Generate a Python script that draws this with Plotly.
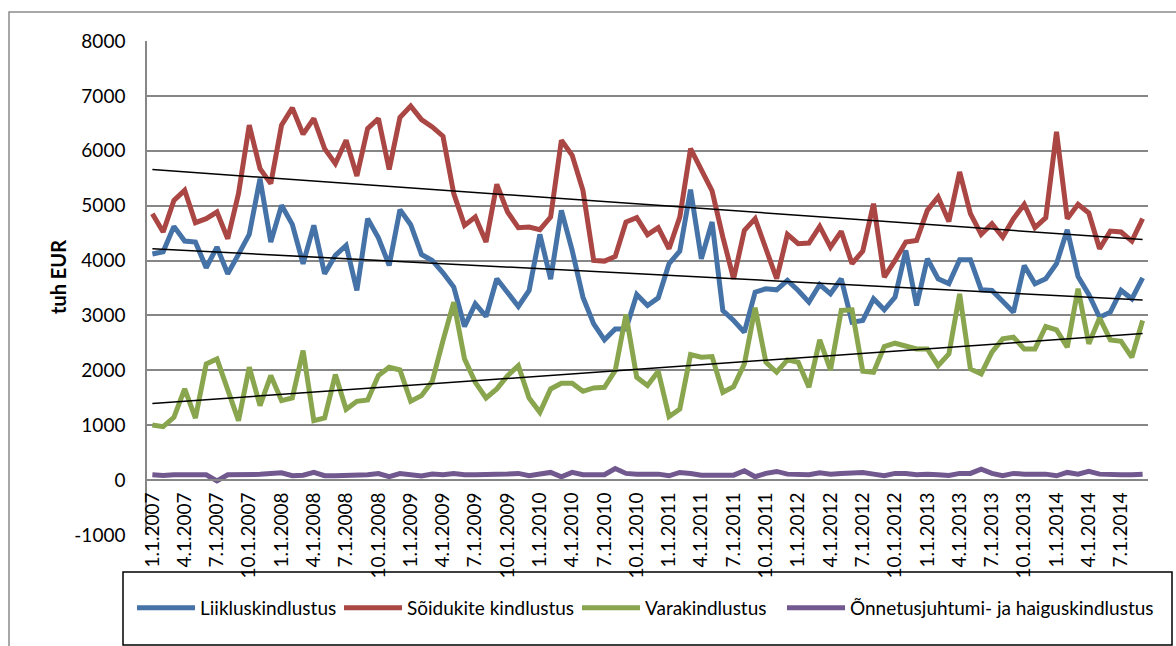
import numpy as np
import plotly.graph_objects as go

months = [f"{m}.1.{y}" for y in range(2007, 2015) for m in range(1, 13)][:93]
y_ticks = [-1000, 0, 1000, 2000, 3000, 4000, 5000, 6000, 7000, 8000]

liiklus = [4120, 4160, 4623, 4355, 4337, 3869, 4246, 3759, 4112, 4477, 5493, 4337, 5006, 4659, 3942, 4641,
           3759, 4094, 4276, 3455, 4763, 4416, 3911, 4927, 4653, 4112, 4002, 3777, 3516, 2798, 3212, 2981,
           3668, 3425, 3163, 3455, 4477, 3660, 4915, 4185, 3333, 2847, 2555, 2755, 2755, 3382, 3182, 3321,
           3942, 4173, 5292, 4033, 4702, 3090, 2908, 2695, 3425, 3486, 3467, 3637, 3455, 3242, 3564, 3394,
           3668, 2878, 2908, 3303, 3102, 3333, 4185, 3182, 4033, 3668, 3580, 4015, 4015, 3467, 3455, 3260,
           3060, 3911, 3577, 3668, 3942, 4562, 3710, 3382, 2968, 3060, 3455, 3303, 3686]

soidukid = [4854, 4520, 5097, 5280, 4690, 4763, 4884, 4398, 5219, 6466, 5675, 5401, 6466, 6782, 6302, 6588,
            6040, 5766, 6192, 5541, 6405, 6588, 5657, 6606, 6813, 6569, 6435, 6265, 5219, 4641, 4793, 4337,
            5389, 4884, 4599, 4611, 4562, 4793, 6192, 5918, 5280, 4002, 3990, 4075, 4702, 4781, 4471, 4599,
            4215, 4793, 6040, 5657, 5268, 4428, 3668, 4550, 4763, 4215, 3668, 4477, 4307, 4319, 4623, 4246,
            4532, 3942, 4173, 5036, 3698, 4002, 4337, 4367, 4915, 5158, 4710, 5614, 4854, 4477, 4672, 4428,
            4763, 5024, 4599, 4781, 6344, 4763, 5024, 4866, 4215, 4538, 4520, 4355, 4763]

vara = [1004, 973, 1144, 1661, 1131, 2117, 2208, 1661, 1083, 2056, 1356, 1904, 1448, 1496, 2360, 1083,
        1131, 1922, 1290, 1436, 1460, 1904, 2056, 2007, 1436, 1539, 1800, 2542, 3242, 2208, 1782, 1496,
        1661, 1904, 2086, 1496, 1235, 1661, 1764, 1764, 1618, 1679, 1691, 1995, 3017, 1873, 1722, 1983,
        1156, 1296, 2287, 2238, 2251, 1600, 1703, 2117, 3140, 2147, 1965, 2190, 2147, 1691, 2555, 2007,
        3090, 3102, 1983, 1965, 2433, 2494, 2433, 2390, 2390, 2086, 2300, 3394, 2026, 1934, 2330, 2573,
        2603, 2390, 2390, 2798, 2737, 2421, 3485, 2482, 2956, 2555, 2530, 2238, 2908]

onnetus = [97, 85, 97, 105, 97, 97, -15, 97, 97, 97, 105, 120, 134, 80, 90, 140, 80, 80, 80,
           80, 97, 120, 61, 120, 97, 75, 110, 97, 120, 97, 97, 97, 110, 110, 122, 80, 110, 140,
           61, 140, 97, 97, 97, 210, 122, 109, 109, 109, 79, 140, 122, 90, 90, 90, 90, 170,
           61, 122, 158, 109, 97, 97, 134, 109, 122, 122, 140, 109, 79, 122, 122, 97, 109, 97,
           85, 122, 122, 201, 122, 79, 122, 109, 109, 109, 79, 140, 109, 158, 109, 97, 97, 97, 109]

series = [
    ("Liikluskindlustus", liiklus, "#4572A7", True),
    ("Sõidukite kindlustus", soidukid, "#AA4643", True),
    ("Varakindlustus", vara, "#89A54E", True),
    ("Õnnetusjuhtumi- ja haiguskindlustus", onnetus, "#71588F", False),
]

FONT = "Lato"
fig = go.Figure()

W, H = 1176, 646
L, R, T, B = 147, 28, 41, 111
pw, ph = W - L - R, H - T - B


def px(x):
    return (x - L) / pw


def py(y):
    return (H - B - y) / ph


legend_ids = ["legend", "legend2", "legend3", "legend4"]
legend_x = [132, 339, 577, 782]

idx = np.arange(len(months))
for (name, vals, col, trend), lid in zip(series, legend_ids):
    fig.add_trace(go.Scatter(x=months, y=vals, mode="lines", name=name, legend=lid,
                             line=dict(color=col, width=5)))
for name, vals, col, trend in series:
    if trend:
        k, b = np.polyfit(idx, np.array(vals, dtype=float), 1)
        fig.add_trace(go.Scatter(x=[months[0], months[-1]], y=[b, k * idx[-1] + b], mode="lines",
                                 line=dict(color="black", width=1.5), showlegend=False,
                                 hoverinfo="skip"))

legends = {}
for lid, lx in zip(legend_ids, legend_x):
    legends[lid] = dict(orientation="h", x=px(lx), y=py(608), xanchor="left", yanchor="middle",
                        font=dict(family=FONT, size=19, color="black"), bgcolor="rgba(0,0,0,0)",
                        borderwidth=0, itemwidth=58)

fig.update_layout(
    width=W, height=H,
    margin=dict(l=L, r=R, t=T, b=B, pad=0, autoexpand=False),
    paper_bgcolor="white", plot_bgcolor="white",
    font=dict(family=FONT, color="black", size=19),
    showlegend=True,
    xaxis=dict(type="category", range=[-0.5, len(months) - 0.5], anchor="free", position=1 / 9,
               tickmode="array", tickvals=months[::3], ticktext=months[::3], tickangle=-90,
               showgrid=False, showline=True, linecolor="#868686", linewidth=1.5,
               ticks="outside", ticklen=4, tickcolor="rgba(0,0,0,0)",
               tickfont=dict(family=FONT, size=19, color="black")),
    yaxis=dict(range=[-1000, 8000], tickmode="array", tickvals=y_ticks,
               ticktext=[str(v) for v in y_ticks], showgrid=True, gridcolor="#868686",
               gridwidth=1.5, zeroline=False, showline=True, linecolor="#868686", linewidth=1.5,
               ticks="outside", ticklen=16, tickcolor="rgba(0,0,0,0)",
               tickfont=dict(family=FONT, size=19, color="black")),
    shapes=[
        dict(type="rect", xref="paper", yref="paper", x0=px(9), x1=px(1185), y0=py(660), y1=py(12),
             line=dict(color="#8c8c8c", width=1.5), layer="below"),
        dict(type="rect", xref="paper", yref="paper", x0=px(123), x1=px(1172), y0=py(645), y1=py(572),
             line=dict(color="black", width=1.5), layer="above"),
    ],
    annotations=[
        dict(text="<b>tuh EUR</b>", xref="paper", yref="paper", x=px(58), y=py(277), textangle=-90,
             showarrow=False, font=dict(family=FONT, size=20, color="black"),
             xanchor="center", yanchor="middle"),
    ],
    **legends,
)

fig.write_html("out.html", config={"displayModeBar": False},
               post_script="document.body.style.margin='0';document.body.style.padding='0';"
                           "document.body.style.overflow='hidden';")
